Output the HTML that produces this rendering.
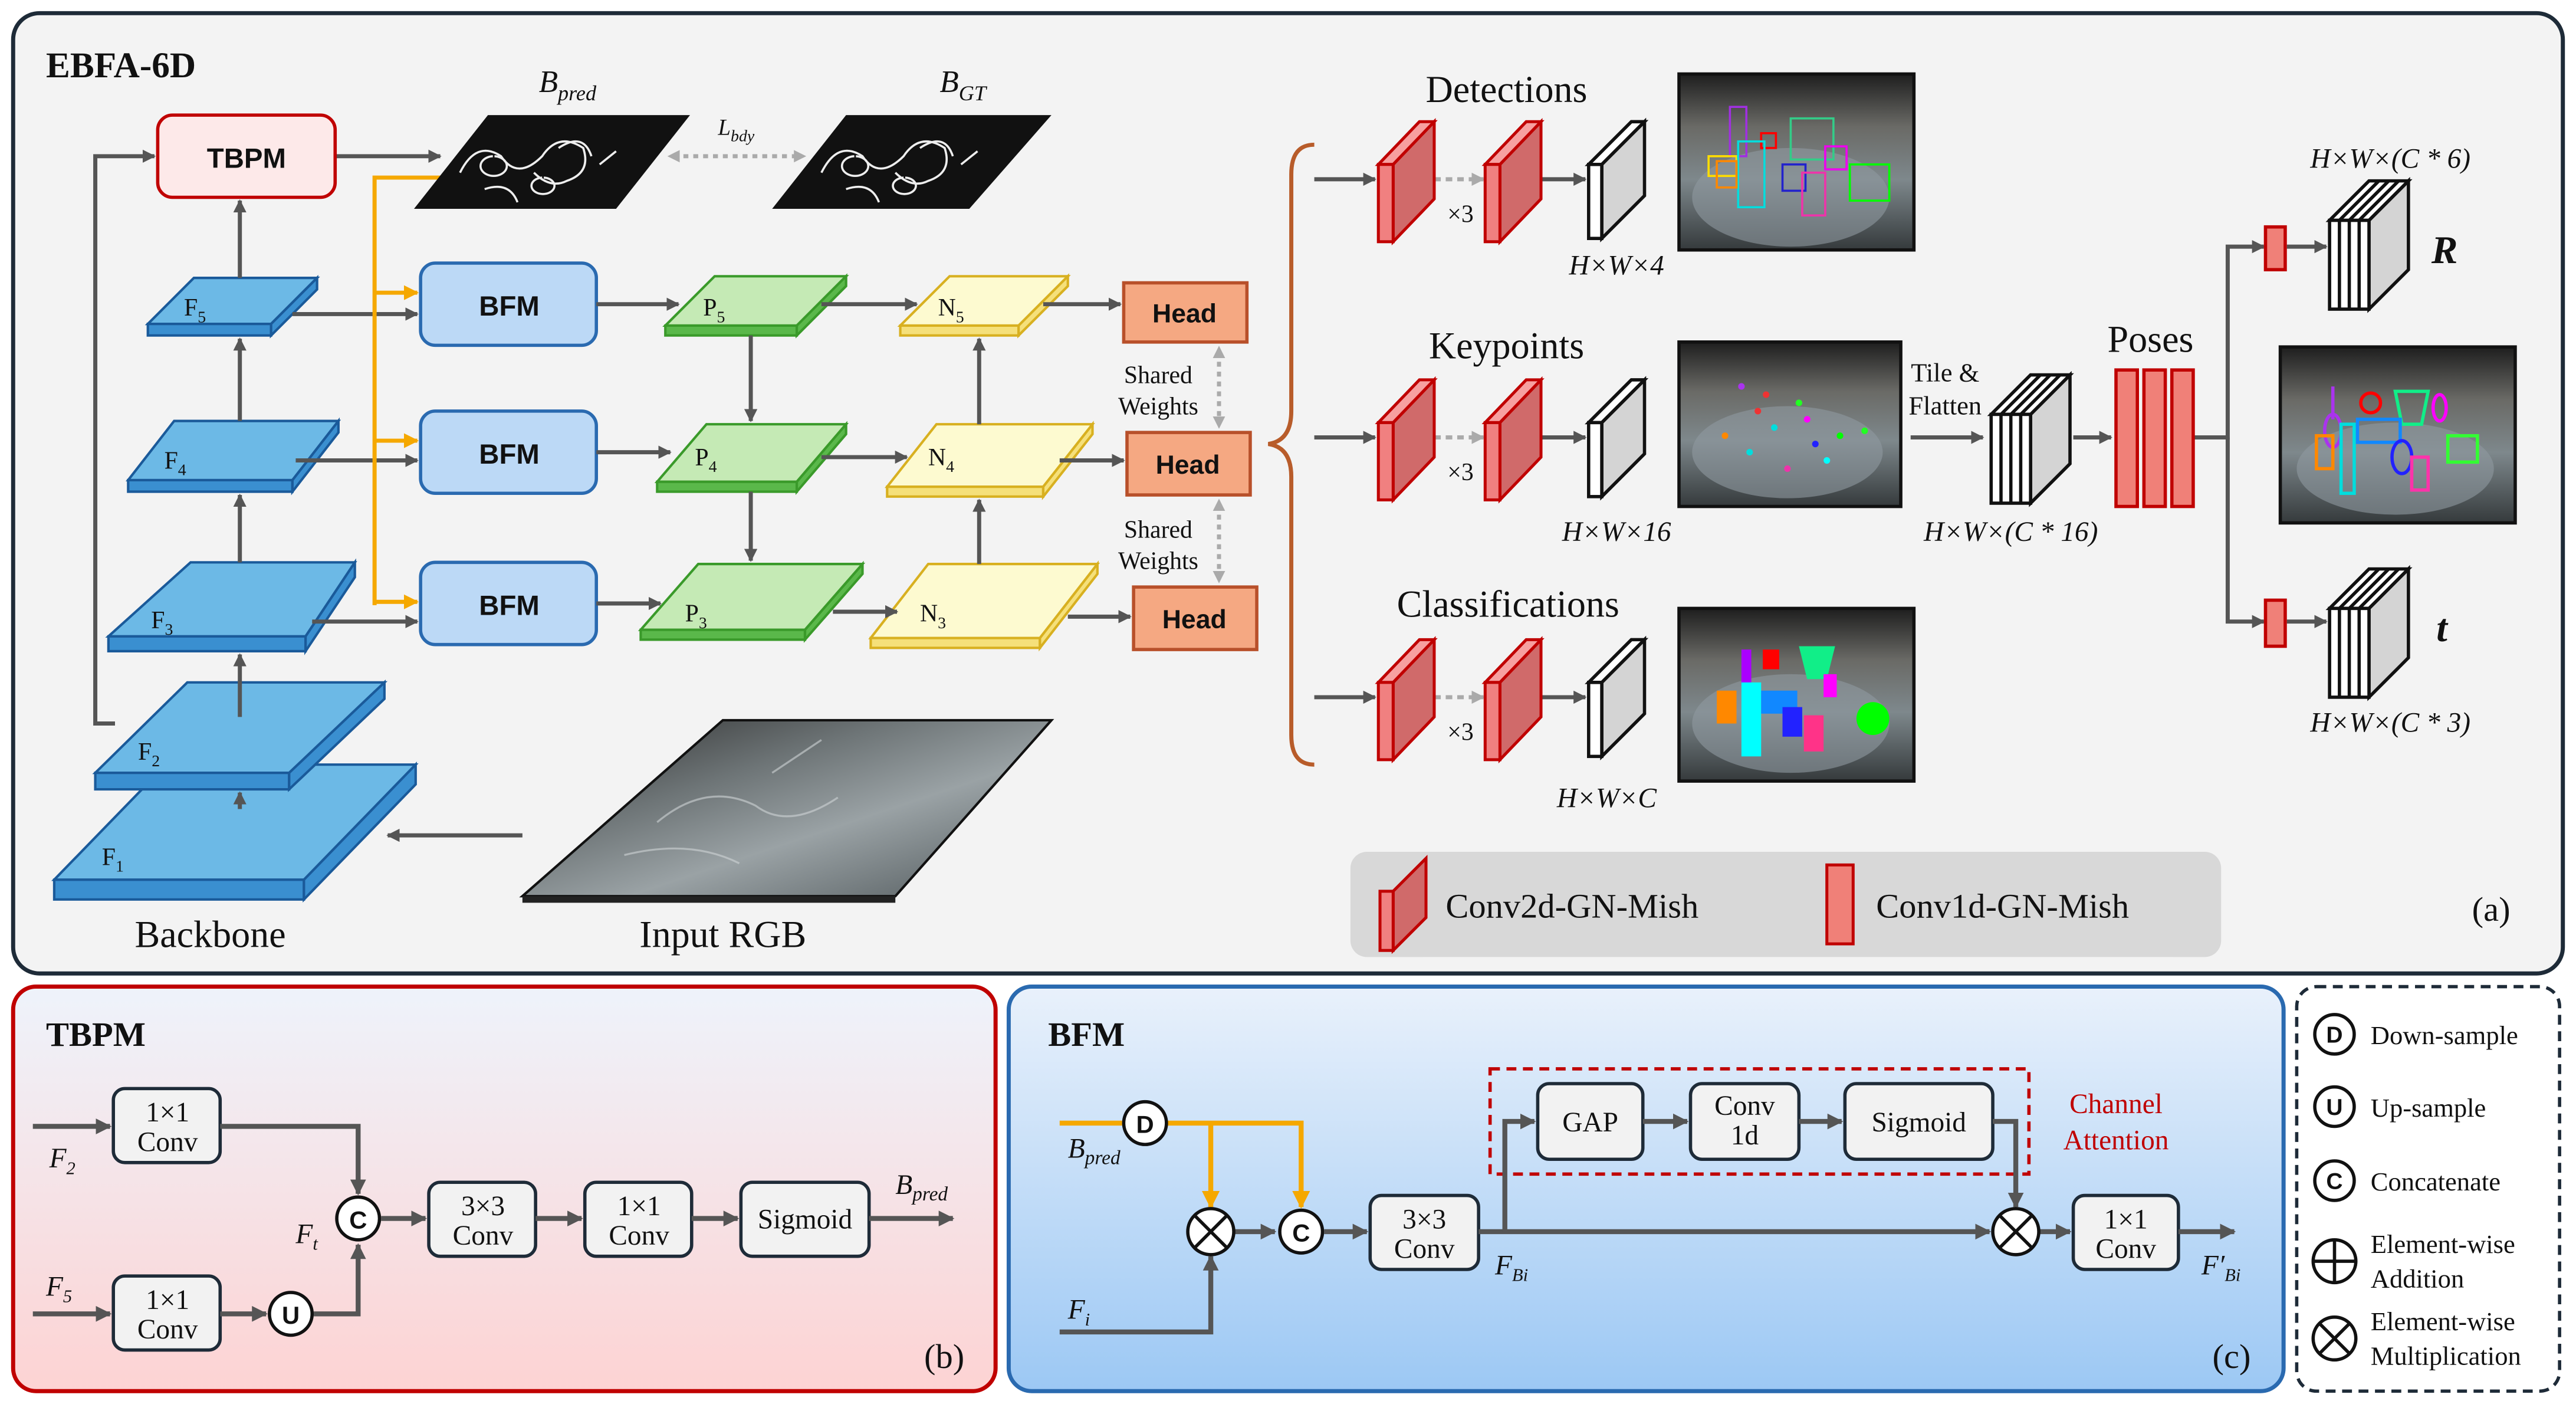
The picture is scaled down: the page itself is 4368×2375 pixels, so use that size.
<!DOCTYPE html>
<html><head><meta charset="utf-8"><style>
html,body{margin:0;padding:0;background:#fff}
svg{display:block;font-family:"Liberation Serif","Times New Roman",serif}
svg text{font-family:"Liberation Serif","Times New Roman",serif;fill:#111}
svg text.sb{font-family:"Liberation Sans",Arial,sans-serif;font-weight:bold}
</style></head><body>
<svg width="4368" height="2375" viewBox="0 0 1568 852" preserveAspectRatio="none" xmlns="http://www.w3.org/2000/svg" font-family="Liberation Serif, serif">
<defs>
<marker id="a" viewBox="0 0 10 10" refX="9" refY="5" markerWidth="3.2" markerHeight="3.2" orient="auto"><path d="M0,0L10,5L0,10z" fill="#555"/></marker>
<marker id="ao" viewBox="0 0 10 10" refX="9" refY="5" markerWidth="3.6" markerHeight="3.6" orient="auto"><path d="M0,0L10,5L0,10z" fill="#f5a800"/></marker>
<marker id="ag" viewBox="0 0 10 10" refX="9" refY="5" markerWidth="3.2" markerHeight="3.2" orient="auto"><path d="M0,0L10,5L0,10z" fill="#aaa"/></marker>
<marker id="ags" viewBox="0 0 10 10" refX="5" refY="5" markerWidth="3" markerHeight="3" orient="auto-start-reverse"><path d="M0,0L10,5L0,10z" fill="#aaa"/></marker>
<linearGradient id="gb" x1="0" y1="0" x2="0" y2="1"><stop offset="0" stop-color="#eef3fb"/><stop offset="1" stop-color="#fdd3d3"/></linearGradient>
<linearGradient id="gc" x1="0" y1="0" x2="0" y2="1"><stop offset="0" stop-color="#e9f1fb"/><stop offset="1" stop-color="#9cc8f4"/></linearGradient>
<linearGradient id="gi" x1="0" y1="0" x2="1" y2="1"><stop offset="0" stop-color="#2a2a2a"/><stop offset="0.35" stop-color="#6d7476"/><stop offset="0.6" stop-color="#9aa2a5"/><stop offset="0.85" stop-color="#6a7275"/><stop offset="1" stop-color="#3a3f42"/></linearGradient>
<linearGradient id="gp" x1="0" y1="0" x2="0" y2="1"><stop offset="0" stop-color="#1e1e1e"/><stop offset="0.3" stop-color="#6a6a66"/><stop offset="0.6" stop-color="#7e888c"/><stop offset="1" stop-color="#353a3c"/></linearGradient>
</defs>

<rect x="8" y="8" width="1552" height="584" rx="16" fill="#f3f3f3" stroke="#1e2b38" stroke-width="2.5"/>
<text x="28" y="47" font-size="22" font-weight="bold">EBFA-6D</text>

<polygon points="318,545 545,545 640,438 440,438" fill="url(#gi)" stroke="#111" stroke-width="1.5"/>
<polygon points="318,545 545,545 545,549 318,549" fill="#222"/>
<g stroke="#cfd4d6" stroke-width="1.2" fill="none" opacity="0.6"><path d="M400,500 q30,-25 60,-10 q20,15 50,-5 M380,520 q40,-10 70,5 M470,470 l30,-20"/></g>
<text x="440" y="576" font-size="23" text-anchor="middle">Input RGB</text>
<text x="128" y="576" font-size="23" text-anchor="middle">Backbone</text>
<line x1="318" y1="508" x2="236" y2="508" stroke="#555" stroke-width="2.5" marker-end="url(#a)"/>

<g fill="#6cb9e6" stroke="#1a5a9a" stroke-width="1.5">
<polygon points="101,465 253,465 185,535 33,535"/><polygon points="33,535 185,535 185,547 33,547" fill="#3a8fd0"/><polygon points="185,535 253,465 253,477 185,547" fill="#3a8fd0"/>
<polygon points="114,415 234,415 176,470 58,470"/><polygon points="58,470 176,470 176,480 58,480" fill="#3a8fd0"/><polygon points="176,470 234,415 234,425 176,480" fill="#3a8fd0"/>
<polygon points="116,342 216,342 186,387 66,387"/><polygon points="66,387 186,387 186,396 66,396" fill="#3a8fd0"/><polygon points="186,387 216,342 216,351 186,396" fill="#3a8fd0"/>
<polygon points="106,256 206,256 178,292 78,292"/><polygon points="78,292 178,292 178,299 78,299" fill="#3a8fd0"/><polygon points="178,292 206,256 206,263 178,299" fill="#3a8fd0"/>
<polygon points="118,169 193,169 165,197 90,197"/><polygon points="90,197 165,197 165,204 90,204" fill="#3a8fd0"/><polygon points="165,197 193,169 193,176 165,204" fill="#3a8fd0"/>
</g>
<g font-size="15"><text x="62" y="526">F<tspan font-size="10" dy="4">1</tspan></text><text x="84" y="462">F<tspan font-size="10" dy="4">2</tspan></text>
<text x="92" y="382">F<tspan font-size="10" dy="4">3</tspan></text><text x="100" y="285">F<tspan font-size="10" dy="4">4</tspan></text><text x="112" y="192">F<tspan font-size="10" dy="4">5</tspan></text></g>
<g stroke="#555" stroke-width="2.5" fill="none">
<line x1="146" y1="492" x2="146" y2="482" marker-end="url(#a)"/>
<line x1="146" y1="436" x2="146" y2="398" marker-end="url(#a)"/>
<line x1="146" y1="342" x2="146" y2="301" marker-end="url(#a)"/>
<line x1="146" y1="256" x2="146" y2="206" marker-end="url(#a)"/>
<line x1="146" y1="169" x2="146" y2="122" marker-end="url(#a)"/>
<polyline points="70,440 58,440 58,95 94,95" marker-end="url(#a)"/>
<line x1="178" y1="191" x2="254" y2="191" marker-end="url(#a)"/>
<line x1="180" y1="280" x2="254" y2="280" marker-end="url(#a)"/>
<line x1="190" y1="378" x2="254" y2="378" marker-end="url(#a)"/>
<line x1="204" y1="95" x2="268" y2="95" marker-end="url(#a)"/>
</g>
<g stroke="#f5a800" stroke-width="2.5" fill="none">
<polyline points="274,108 228,108 228,368"/>
<line x1="228" y1="178" x2="254" y2="178" marker-end="url(#ao)"/>
<line x1="228" y1="268" x2="254" y2="268" marker-end="url(#ao)"/>
<line x1="228" y1="366" x2="254" y2="366" marker-end="url(#ao)"/>
</g>
<rect x="96" y="70" width="108" height="50" rx="9" fill="#fde9e9" stroke="#c00000" stroke-width="2"/>
<text x="150" y="102" font-size="17" text-anchor="middle" class="sb">TBPM</text>
<g fill="#bcd9f6" stroke="#2a6ab0" stroke-width="2">
<rect x="256" y="160" width="107" height="50" rx="9"/><rect x="256" y="250" width="107" height="50" rx="9"/><rect x="256" y="342" width="107" height="50" rx="9"/></g>
<g font-size="17" text-anchor="middle"><text class="sb" x="310" y="192">BFM</text><text class="sb" x="310" y="282">BFM</text><text class="sb" x="310" y="374">BFM</text></g>

<polygon points="252,127 375,127 420,70 297,70" fill="#111"/>
<polygon points="470,127 590,127 640,70 515,70" fill="#111"/>
<g stroke="#eee" stroke-width="1.3" fill="none">
<path d="M280,105 q10,-20 25,-10 q10,15 25,0 q10,-15 25,-5 q5,15 -10,20 q-10,5 -20,-5 M295,115 q15,-5 20,8 M340,90 q15,-10 20,5 M365,100 l10,-8 M300,95 a8,6 0 1 0 1,0 M330,108 a7,5 0 1 0 1,0"/>
<path d="M500,105 q10,-20 25,-10 q10,15 25,0 q10,-15 25,-5 q5,15 -10,20 q-10,5 -20,-5 M515,115 q15,-5 20,8 M560,90 q15,-10 20,5 M585,100 l10,-8 M520,95 a8,6 0 1 0 1,0 M550,108 a7,5 0 1 0 1,0"/>
</g>
<text x="328" y="56" font-size="19" font-style="italic">B<tspan font-size="13" dy="5">pred</tspan></text>
<text x="572" y="56" font-size="19" font-style="italic">B<tspan font-size="13" dy="5">GT</tspan></text>
<text x="437" y="82" font-size="14" font-style="italic">L<tspan font-size="10" dy="4">bdy</tspan></text>
<line x1="410" y1="95" x2="487" y2="95" stroke="#aaa" stroke-width="2.5" stroke-dasharray="3,3" marker-start="url(#ags)" marker-end="url(#ags)"/>

<g fill="#c5eab5" stroke="#3a9a2a" stroke-width="1.5">
<polygon points="435,168 515,168 485,198 405,198"/><polygon points="405,198 485,198 485,204 405,204" fill="#5ab84a"/><polygon points="485,198 515,168 515,174 485,204" fill="#5ab84a"/>
<polygon points="430,258 515,258 485,293 400,293"/><polygon points="400,293 485,293 485,299 400,299" fill="#5ab84a"/><polygon points="485,293 515,258 515,264 485,299" fill="#5ab84a"/>
<polygon points="425,343 525,343 490,383 390,383"/><polygon points="390,383 490,383 490,389 390,389" fill="#5ab84a"/><polygon points="490,383 525,343 525,349 490,389" fill="#5ab84a"/>
</g>
<g fill="#fdfad0" stroke="#d8b020" stroke-width="1.5">
<polygon points="578,168 650,168 620,198 548,198"/><polygon points="548,198 620,198 620,204 548,204" fill="#f5e07a"/><polygon points="620,198 650,168 650,174 620,204" fill="#f5e07a"/>
<polygon points="570,258 665,258 635,296 540,296"/><polygon points="540,296 635,296 635,302 540,302" fill="#f5e07a"/><polygon points="635,296 665,258 665,264 635,302" fill="#f5e07a"/>
<polygon points="565,343 668,343 633,388 530,388"/><polygon points="530,388 633,388 633,394 530,394" fill="#f5e07a"/><polygon points="633,388 668,343 668,349 633,394" fill="#f5e07a"/>
</g>
<g font-size="15"><text x="428" y="192">P<tspan font-size="10" dy="4">5</tspan></text><text x="423" y="283">P<tspan font-size="10" dy="4">4</tspan></text><text x="417" y="378">P<tspan font-size="10" dy="4">3</tspan></text>
<text x="571" y="192">N<tspan font-size="10" dy="4">5</tspan></text><text x="565" y="283">N<tspan font-size="10" dy="4">4</tspan></text><text x="560" y="378">N<tspan font-size="10" dy="4">3</tspan></text></g>
<g stroke="#555" stroke-width="2.5" fill="none">
<line x1="363" y1="185" x2="413" y2="185" marker-end="url(#a)"/>
<line x1="363" y1="275" x2="408" y2="275" marker-end="url(#a)"/>
<line x1="363" y1="367" x2="402" y2="367" marker-end="url(#a)"/>
<line x1="457" y1="204" x2="457" y2="256" marker-end="url(#a)"/>
<line x1="457" y1="299" x2="457" y2="341" marker-end="url(#a)"/>
<line x1="500" y1="185" x2="558" y2="185" marker-end="url(#a)"/>
<line x1="500" y1="278" x2="552" y2="278" marker-end="url(#a)"/>
<line x1="507" y1="372" x2="546" y2="372" marker-end="url(#a)"/>
<line x1="596" y1="343" x2="596" y2="304" marker-end="url(#a)"/>
<line x1="596" y1="258" x2="596" y2="206" marker-end="url(#a)"/>
<line x1="635" y1="185" x2="682" y2="185" marker-end="url(#a)"/>
<line x1="645" y1="280" x2="684" y2="280" marker-end="url(#a)"/>
<line x1="650" y1="375" x2="688" y2="375" marker-end="url(#a)"/>
</g>
<g fill="#f5a882" stroke="#b8502a" stroke-width="2">
<rect x="684" y="172" width="75" height="36"/><rect x="686" y="263" width="75" height="38"/><rect x="690" y="357" width="75" height="38"/></g>
<g font-size="16" text-anchor="middle"><text class="sb" x="721" y="196">Head</text><text class="sb" x="723" y="288">Head</text><text class="sb" x="727" y="382">Head</text></g>
<g font-size="15" text-anchor="middle"><text x="705" y="233">Shared</text><text x="705" y="252">Weights</text><text x="705" y="327">Shared</text><text x="705" y="346">Weights</text></g>
<g stroke="#aaa" stroke-width="2.5" stroke-dasharray="3,3"><line x1="742" y1="214" x2="742" y2="257" marker-start="url(#ags)" marker-end="url(#ags)"/><line x1="742" y1="307" x2="742" y2="351" marker-start="url(#ags)" marker-end="url(#ags)"/></g>

<path d="M800,88 q-14,0 -14,18 L786,250 q0,18 -14,20 q14,2 14,20 L786,447 q0,18 14,18" fill="none" stroke="#b85c2a" stroke-width="2.5"/>

<g id="row">
<line x1="800" y1="109" x2="837" y2="109" stroke="#555" stroke-width="2.5" marker-end="url(#a)"/>
<line x1="873" y1="109" x2="903" y2="109" stroke="#aaa" stroke-width="2.5" stroke-dasharray="4,3" marker-end="url(#ag)"/>
<line x1="938" y1="109" x2="965" y2="109" stroke="#555" stroke-width="2.5" marker-end="url(#a)"/>
<g stroke="#c00000" stroke-width="1.8">
<polygon points="848,100 873,74 873,121 848,147" fill="#d06a6a"/><polygon points="839,100 864,74 873,74 848,100" fill="#f7a0a0"/><rect x="839" y="100" width="9" height="47" fill="#f08080"/>
<polygon points="913,100 938,74 938,121 913,147" fill="#d06a6a"/><polygon points="904,100 929,74 938,74 913,100" fill="#f7a0a0"/><rect x="904" y="100" width="9" height="47" fill="#f08080"/>
</g>
<g stroke="#111" stroke-width="2"><polygon points="975,100 1001,74 1001,119 975,145" fill="#d4d4d4"/><polygon points="967,100 993,74 1001,74 975,100" fill="#fff"/><rect x="967" y="100" width="8" height="45" fill="#fff"/></g>
<text x="889" y="135" font-size="15" text-anchor="middle">×3</text>
</g>
<use href="#row" y="157"/>
<use href="#row" y="315"/>
<g font-size="23" text-anchor="middle"><text x="917" y="62">Detections</text><text x="917" y="218">Keypoints</text><text x="918" y="375">Classifications</text></g>
<g font-size="17" font-style="italic" text-anchor="middle"><text x="984" y="167">H×W×4</text><text x="984" y="329">H×W×16</text><text x="978" y="491">H×W×C</text>
<text x="1224" y="329">H×W×(C * 16)</text><text x="1455" y="102">H×W×(C * 6)</text><text x="1455" y="445">H×W×(C * 3)</text></g>

<rect x="1022" y="45" width="143" height="107" fill="url(#gp)" stroke="#111" stroke-width="2"/>
<ellipse cx="1090" cy="120" rx="60" ry="30" fill="#8f9aa0" opacity="0.6"/>
<g fill="none" stroke-width="1.3">
<rect x="1053" y="65" width="10" height="30" stroke="#a030e0"/><rect x="1072" y="81" width="9" height="9" stroke="#f00"/><rect x="1090" y="72" width="26" height="25" stroke="#3c8"/><rect x="1040" y="95" width="17" height="12" stroke="#fd0"/><rect x="1058" y="86" width="16" height="40" stroke="#0dd"/><rect x="1085" y="100" width="14" height="16" stroke="#22c"/><rect x="1097" y="105" width="14" height="26" stroke="#e3a"/><rect x="1126" y="100" width="24" height="22" stroke="#0f0"/><rect x="1111" y="89" width="13" height="14" stroke="#e0e"/><rect x="1045" y="98" width="12" height="16" stroke="#f80"/></g>
<rect x="1022" y="208" width="135" height="100" fill="url(#gp)" stroke="#111" stroke-width="2"/>
<ellipse cx="1088" cy="275" rx="58" ry="28" fill="#8f9aa0" opacity="0.6"/>
<g fill="#e33"><circle cx="1060" cy="235" r="2" fill="#a3e"/><circle cx="1070" cy="250" r="2"/><circle cx="1080" cy="260" r="2" fill="#0dd"/><circle cx="1095" cy="245" r="2" fill="#2f2"/><circle cx="1105" cy="270" r="2" fill="#22f"/><circle cx="1120" cy="265" r="2" fill="#0f0"/><circle cx="1050" cy="265" r="2" fill="#f80"/><circle cx="1088" cy="285" r="2" fill="#e3a"/><circle cx="1135" cy="262" r="2" fill="#2f2"/><circle cx="1065" cy="275" r="2" fill="#0dd"/><circle cx="1100" cy="255" r="2" fill="#f0f"/><circle cx="1075" cy="240" r="2"/><circle cx="1112" cy="280" r="2" fill="#0ff"/></g>
<rect x="1022" y="370" width="143" height="105" fill="url(#gp)" stroke="#111" stroke-width="2"/>
<ellipse cx="1090" cy="440" rx="60" ry="30" fill="#8f9aa0" opacity="0.6"/>
<g><rect x="1060" y="395" width="6" height="22" fill="#a0f"/><rect x="1073" y="395" width="10" height="12" fill="#f00"/><path d="M1095,393 l22,0 -5,20 -12,0z" fill="#1e8"/><rect x="1060" y="415" width="12" height="45" fill="#0ff"/><rect x="1072" y="420" width="22" height="14" fill="#18f"/><rect x="1045" y="420" width="12" height="20" fill="#f80"/><rect x="1085" y="430" width="12" height="18" fill="#22f"/><rect x="1098" y="435" width="12" height="22" fill="#f38"/><circle cx="1140" cy="437" r="10" fill="#0f0"/><rect x="1110" y="410" width="8" height="14" fill="#f0f"/></g>
<rect x="1388" y="211" width="143" height="107" fill="url(#gp)" stroke="#111" stroke-width="2"/>
<ellipse cx="1458" cy="285" rx="60" ry="28" fill="#8f9aa0" opacity="0.6"/>
<g stroke-width="2" fill="none"><path d="M1420,235 l0,20" stroke="#a3e"/><ellipse cx="1420" cy="262" rx="5" ry="10" stroke="#a3e"/><ellipse cx="1443" cy="245" rx="6" ry="6" stroke="#f00"/><path d="M1458,238 l20,0 -4,20 -12,0z" stroke="#1e8"/><rect x="1425" y="258" width="8" height="42" stroke="#0dd"/><rect x="1435" y="255" width="26" height="14" stroke="#18f"/><rect x="1410" y="265" width="10" height="20" stroke="#f80"/><ellipse cx="1462" cy="278" rx="6" ry="10" stroke="#22f"/><rect x="1468" y="278" width="10" height="20" stroke="#f3a"/><rect x="1490" y="265" width="18" height="16" stroke="#3f3"/><ellipse cx="1485" cy="248" rx="4" ry="8" stroke="#f0f"/></g>

<text x="1184" y="232" font-size="16" text-anchor="middle">Tile &amp;</text><text x="1184" y="252" font-size="16" text-anchor="middle">Flatten</text>
<g stroke="#555" stroke-width="2.5" fill="none">
<line x1="1163" y1="266" x2="1207" y2="266" marker-end="url(#a)"/>
<line x1="1262" y1="266" x2="1285" y2="266" marker-end="url(#a)"/>
<polyline points="1335,266 1356,266 1356,150 1378,150" marker-end="url(#a)"/>
<polyline points="1356,266 1356,378 1378,378" marker-end="url(#a)"/>
<line x1="1392" y1="150" x2="1416" y2="150" marker-end="url(#a)"/>
<line x1="1392" y1="378" x2="1416" y2="378" marker-end="url(#a)"/>
</g>
<g id="stk" stroke="#111" stroke-width="2"><polygon points="1236,252 1260,228 1260,282 1236,306" fill="#d4d4d4"/><polygon points="1212,252 1236,228 1260,228 1236,252" fill="#fff"/><line x1="1218" y1="252" x2="1242" y2="228"/><line x1="1224" y1="252" x2="1248" y2="228"/><line x1="1230" y1="252" x2="1254" y2="228"/><rect x="1212" y="252" width="24" height="54" fill="#fff"/><line x1="1218" y1="252" x2="1218" y2="306"/><line x1="1224" y1="252" x2="1224" y2="306"/><line x1="1230" y1="252" x2="1230" y2="306"/></g>
<use href="#stk" x="206" y="-118"/>
<use href="#stk" x="206" y="118"/>
<g fill="#f08078" stroke="#c00000" stroke-width="2"><rect x="1288" y="225" width="13" height="83"/><rect x="1305" y="225" width="13" height="83"/><rect x="1322" y="225" width="13" height="83"/><rect x="1379" y="138" width="12" height="26"/><rect x="1379" y="365" width="12" height="28"/></g>
<text x="1309" y="214" font-size="23" text-anchor="middle">Poses</text>
<text x="1480" y="160" font-size="24" font-weight="bold" font-style="italic">R</text>
<text x="1483" y="390" font-size="24" font-weight="bold" font-style="italic">t</text>

<rect x="822" y="518" width="530" height="64" rx="10" fill="#d8d8d8"/>
<g stroke="#c00000" stroke-width="1.8"><polygon points="848,542 868,522 868,558 848,578" fill="#d06a6a"/><rect x="840" y="542" width="8" height="36" fill="#f08080"/><rect x="1112" y="526" width="16" height="48" fill="#f08078"/></g>
<text x="880" y="558" font-size="21">Conv2d-GN-Mish</text>
<text x="1142" y="558" font-size="21">Conv1d-GN-Mish</text>
<text x="1528" y="560" font-size="21" text-anchor="end">(a)</text>

<rect x="8" y="600" width="598" height="246" rx="14" fill="url(#gb)" stroke="#c00000" stroke-width="2.5"/>
<text x="28" y="636" font-size="21" font-weight="bold">TBPM</text>
<g fill="#f2f2f2" stroke="#1e2b38" stroke-width="2">
<rect x="69" y="662" width="65" height="45" rx="7"/><rect x="69" y="776" width="65" height="45" rx="7"/>
<rect x="261" y="719" width="65" height="45" rx="7"/><rect x="356" y="719" width="65" height="45" rx="7"/><rect x="451" y="719" width="78" height="45" rx="7"/></g>
<g font-size="17" text-anchor="middle"><text x="102" y="682">1×1</text><text x="102" y="700">Conv</text><text x="102" y="796">1×1</text><text x="102" y="814">Conv</text>
<text x="294" y="739">3×3</text><text x="294" y="757">Conv</text><text x="389" y="739">1×1</text><text x="389" y="757">Conv</text><text x="490" y="747">Sigmoid</text></g>
<g stroke="#555" stroke-width="3" fill="none">
<line x1="20" y1="685" x2="67" y2="685" marker-end="url(#a)"/><line x1="20" y1="799" x2="67" y2="799" marker-end="url(#a)"/>
<polyline points="134,685 218,685 218,726" marker-end="url(#a)"/>
<line x1="134" y1="799" x2="162" y2="799" marker-end="url(#a)"/>
<polyline points="191,799 218,799 218,757" marker-end="url(#a)"/>
<line x1="232" y1="741" x2="259" y2="741" marker-end="url(#a)"/><line x1="326" y1="741" x2="354" y2="741" marker-end="url(#a)"/><line x1="421" y1="741" x2="449" y2="741" marker-end="url(#a)"/><line x1="529" y1="741" x2="580" y2="741" marker-end="url(#a)"/>
</g>
<g fill="#fff" stroke="#111" stroke-width="2"><circle cx="218" cy="741" r="13"/><circle cx="177" cy="799" r="13"/></g>
<g font-size="15" text-anchor="middle"><text class="sb" x="218" y="747">C</text><text class="sb" x="177" y="805">U</text></g>
<g font-size="17" font-style="italic"><text x="30" y="710">F<tspan font-size="11" dy="4">2</tspan></text><text x="28" y="788">F<tspan font-size="11" dy="4">5</tspan></text><text x="180" y="756">F<tspan font-size="11" dy="4">t</tspan></text><text x="545" y="726">B<tspan font-size="12" dy="4">pred</tspan></text></g>
<text x="587" y="832" font-size="21" text-anchor="end">(b)</text>

<rect x="614" y="600" width="776" height="246" rx="14" fill="url(#gc)" stroke="#2a6ab0" stroke-width="2.5"/>
<text x="638" y="636" font-size="21" font-weight="bold">BFM</text>
<rect x="907" y="650" width="328" height="64" fill="none" stroke="#c00000" stroke-width="2" stroke-dasharray="6,4"/>
<text x="1288" y="677" font-size="17" text-anchor="middle" style="fill:#c00000">Channel</text>
<text x="1288" y="699" font-size="17" text-anchor="middle" style="fill:#c00000">Attention</text>
<g fill="#f2f2f2" stroke="#1e2b38" stroke-width="2">
<rect x="834" y="727" width="66" height="45" rx="7"/><rect x="936" y="659" width="64" height="46" rx="7"/><rect x="1029" y="659" width="66" height="46" rx="7"/><rect x="1123" y="659" width="90" height="46" rx="7"/><rect x="1262" y="727" width="64" height="45" rx="7"/></g>
<g font-size="17" text-anchor="middle"><text x="867" y="747">3×3</text><text x="867" y="765">Conv</text><text x="968" y="688">GAP</text><text x="1062" y="678">Conv</text><text x="1062" y="696">1d</text><text x="1168" y="688">Sigmoid</text><text x="1294" y="747">1×1</text><text x="1294" y="765">Conv</text></g>
<g stroke="#f5a800" stroke-width="3" fill="none">
<line x1="645" y1="683" x2="683" y2="683"/>
<polyline points="710,683 792,683 792,734" marker-end="url(#ao)"/>
<line x1="737" y1="683" x2="737" y2="734" marker-end="url(#ao)"/>
</g>
<g stroke="#555" stroke-width="3" fill="none">
<polyline points="645,810 737,810 737,764" marker-end="url(#a)"/>
<line x1="751" y1="749" x2="776" y2="749" marker-end="url(#a)"/>
<line x1="806" y1="749" x2="832" y2="749" marker-end="url(#a)"/>
<line x1="900" y1="749" x2="1211" y2="749" marker-end="url(#a)"/>
<polyline points="916,749 916,682 934,682" marker-end="url(#a)"/>
<line x1="1000" y1="682" x2="1027" y2="682" marker-end="url(#a)"/>
<line x1="1095" y1="682" x2="1121" y2="682" marker-end="url(#a)"/>
<polyline points="1213,682 1227,682 1227,734" marker-end="url(#a)"/>
<line x1="1241" y1="749" x2="1260" y2="749" marker-end="url(#a)"/>
<line x1="1326" y1="749" x2="1360" y2="749" marker-end="url(#a)"/>
</g>
<g fill="#fff" stroke="#111" stroke-width="2"><circle cx="697" cy="683" r="13"/><circle cx="737" cy="749" r="14"/><circle cx="792" cy="749" r="13"/><circle cx="1227" cy="749" r="14"/></g>
<g stroke="#111" stroke-width="2"><line x1="727" y1="739" x2="747" y2="759"/><line x1="747" y1="739" x2="727" y2="759"/><line x1="1217" y1="739" x2="1237" y2="759"/><line x1="1237" y1="739" x2="1217" y2="759"/></g>
<g font-size="15" text-anchor="middle"><text class="sb" x="697" y="689">D</text><text class="sb" x="792" y="755">C</text></g>
<g font-size="17" font-style="italic"><text x="650" y="704">B<tspan font-size="12" dy="4">pred</tspan></text><text x="650" y="802">F<tspan font-size="11" dy="4">i</tspan></text><text x="910" y="775">F<tspan font-size="11" dy="4">Bi</tspan></text><text x="1340" y="775">F′<tspan font-size="11" dy="4">Bi</tspan></text></g>
<text x="1370" y="832" font-size="21" text-anchor="end">(c)</text>

<rect x="1398" y="600" width="160" height="246" rx="12" fill="#fff" stroke="#1e2b38" stroke-width="2" stroke-dasharray="6,4"/>
<g fill="#fff" stroke="#111" stroke-width="2"><circle cx="1421" cy="629" r="12"/><circle cx="1421" cy="673" r="12"/><circle cx="1421" cy="718" r="12"/><circle cx="1421" cy="767" r="13"/><circle cx="1421" cy="814" r="13"/></g>
<g stroke="#111" stroke-width="2"><line x1="1408" y1="767" x2="1434" y2="767"/><line x1="1421" y1="754" x2="1421" y2="780"/><line x1="1412" y1="805" x2="1430" y2="823"/><line x1="1430" y1="805" x2="1412" y2="823"/></g>
<g font-size="14" text-anchor="middle"><text class="sb" x="1421" y="634">D</text><text class="sb" x="1421" y="678">U</text><text class="sb" x="1421" y="723">C</text></g>
<g font-size="16"><text x="1443" y="635">Down-sample</text><text x="1443" y="679">Up-sample</text><text x="1443" y="724">Concatenate</text><text x="1443" y="762">Element-wise</text><text x="1443" y="783">Addition</text><text x="1443" y="809">Element-wise</text><text x="1443" y="830">Multiplication</text></g>
</svg>
</body></html>
